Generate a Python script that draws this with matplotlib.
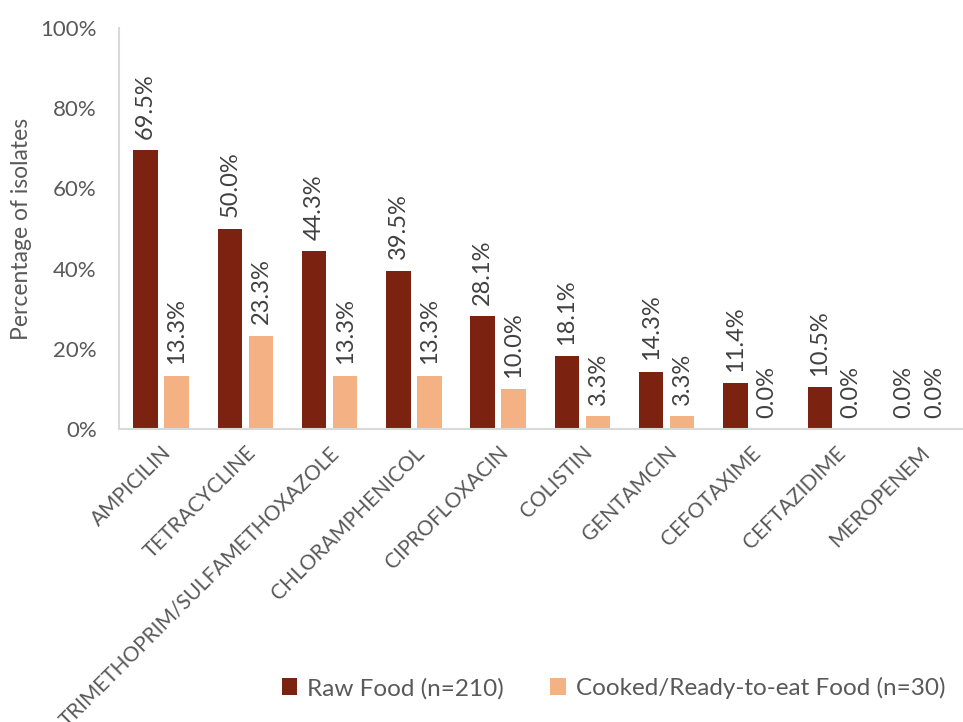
import numpy as np
import matplotlib
matplotlib.use("Agg")
import matplotlib.pyplot as plt
from matplotlib.ticker import PercentFormatter

categories = ["AMPICILIN", "TETRACYCLINE", "TRIMETHOPRIM/SULFAMETHOXAZOLE",
              "CHLORAMPHENICOL", "CIPROFLOXACIN", "COLISTIN", "GENTAMCIN",
              "CEFOTAXIME", "CEFTAZIDIME", "MEROPENEM"]
raw_food = [69.5, 50.0, 44.3, 39.5, 28.1, 18.1, 14.3, 11.4, 10.5, 0.0]
cooked_food = [13.3, 23.3, 13.3, 13.3, 10.0, 3.3, 3.3, 0.0, 0.0, 0.0]
series_names = ["Raw Food (n=210)", "Cooked/Ready-to-eat Food (n=30)"]

plt.rcParams['font.family'] = ['Lato', 'DejaVu Sans']
GRAY = "#595959"
RAW_C = "#7B2310"
COOK_C = "#F4B183"

fig = plt.figure(figsize=(9.63, 7.22), dpi=100)
ax = fig.add_axes([0.1236, 0.406, 0.875, 0.555])

x = np.arange(len(categories))
w = 0.29
off = 0.184
b1 = ax.bar(x - off, raw_food, w, color=RAW_C, label=series_names[0])
b2 = ax.bar(x + off, cooked_food, w, color=COOK_C, label=series_names[1])

for bars in (b1, b2):
    for r in bars:
        h = r.get_height()
        ax.annotate(f"{h:.1f}%", (r.get_x() + r.get_width()/2, h),
                    xytext=(0, 8), textcoords="offset points", rotation=90,
                    ha="center", va="bottom", fontsize=17, color="#404040")

ax.set_xlim(-0.5, len(categories) - 0.5)
ax.set_ylim(0, 100)
ax.set_yticks(range(0, 101, 20))
ax.yaxis.set_major_formatter(PercentFormatter(decimals=0))
ax.set_xticks(x)
ax.set_xticklabels(categories, rotation=45, ha="right", rotation_mode="anchor",
                   fontsize=15)
ax.tick_params(axis="both", length=0, labelcolor=GRAY)
ax.tick_params(axis="y", labelsize=16, pad=16)
ax.tick_params(axis="x", pad=10)
for s in ("top", "right"):
    ax.spines[s].set_visible(False)
for s in ("left", "bottom"):
    ax.spines[s].set_color("#D9D9D9")
    ax.spines[s].set_linewidth(1.5)
ax.set_ylabel("Percentage of isolates", fontsize=16.5, color=GRAY, labelpad=6)

fig.legend(loc="center", bbox_to_anchor=(0.637, 0.047), ncol=2, frameon=False,
           fontsize=17.5, labelcolor=GRAY, handlelength=0.65, handleheight=0.65,
           handletextpad=0.4, columnspacing=1.9)

fig.savefig("out.png", dpi=100)
